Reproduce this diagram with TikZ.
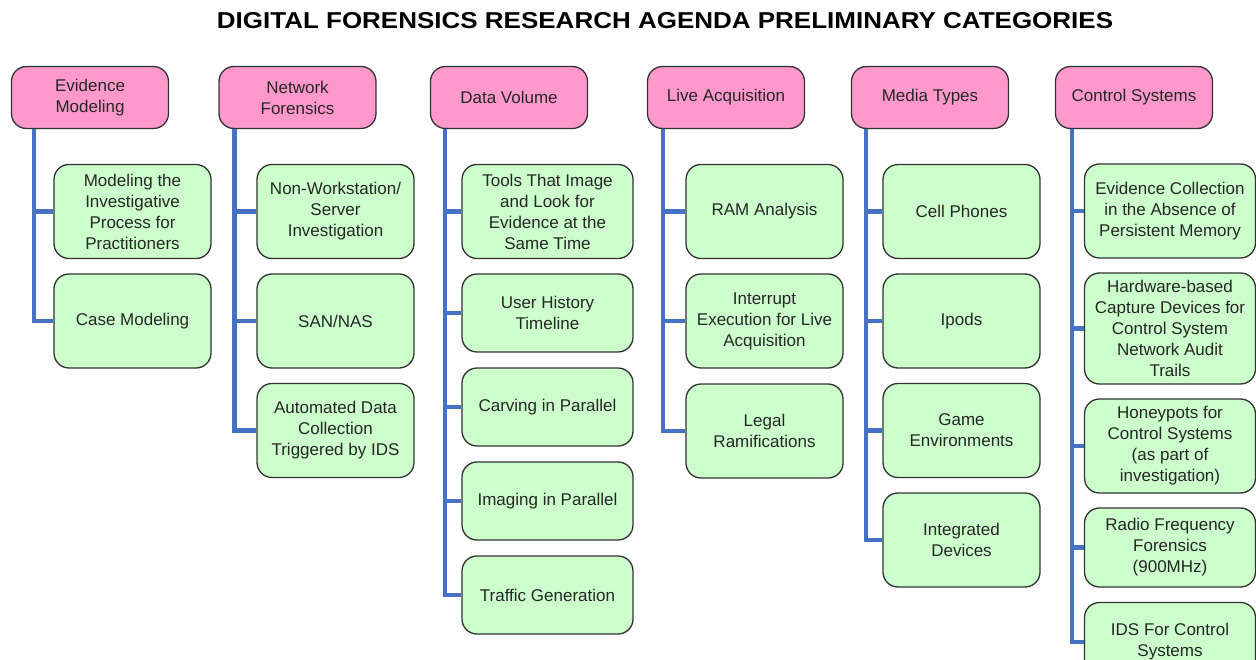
\documentclass[tikz,border=0pt]{standalone}
\usepackage{fontspec}
\setmainfont{Liberation Sans}
\definecolor{headpink}{RGB}{255,153,204}
\definecolor{leafgreen}{RGB}{204,255,204}
\definecolor{linkblue}{RGB}{70,114,196}
\definecolor{rim}{RGB}{50,50,50}

\begin{document}
\begin{tikzpicture}[x=1pt, y=-1pt, every text node part/.style={align=center}]

\tikzstyle{box}=[draw=rim, line width=1.3pt, rounded corners=15pt, text=black!85, inner sep=0pt, font=\fontsize{17}{21}\selectfont]
\tikzstyle{head}=[box, fill=headpink, minimum width=157pt, minimum height=62pt]
\tikzstyle{leaf}=[box, fill=leafgreen, minimum width=157pt, minimum height=94pt]
\tikzstyle{wide}=[leaf, minimum width=171pt]
\tikzstyle{edge}=[draw=linkblue, line width=4.5pt]

\useasboundingbox (0,0) rectangle (1256,660);

\node [xscale=1.13, transform shape] (title) at (665, 21) {\fontsize{23}{27}\selectfont\bfseries DIGITAL FORENSICS RESEARCH AGENDA PRELIMINARY CATEGORIES};

\node [head] (evid)    at (  90, 97.5) {Evidence\\Modeling};
\node [head] (netw)    at ( 297.5, 97.5) {Network\\Forensics};
\node [head] (volume)  at ( 509, 97.5) {Data Volume};
\node [head] (live)    at ( 726, 97.5) {Live Acquisition};
\node [head] (media)   at ( 930, 97.5) {Media Types};
\node [head] (ctrl)    at (1134, 97.5) {Control Systems};

\node [leaf] (evid1)   at (132.5, 211.5) {Modeling the\\Investigative\\Process for\\Practitioners};
\node [leaf] (evid2)   at (132.5, 321) {Case Modeling};

\node [leaf] (netw1)   at (335.5, 211.5) {Non-Workstation/\\Server\\Investigation};
\node [leaf] (netw2)   at (335.5, 321) {SAN/NAS};
\node [leaf] (netw3)   at (335.5, 430.5) {Automated Data\\Collection\\Triggered by IDS};

\node [wide] (volume1) at (547.5, 211.5) {Tools That Image\\and Look for\\Evidence at the\\Same Time};
\node [wide, minimum height=78pt] (volume2) at (547.5, 313) {User History\\Timeline};
\node [wide, minimum height=78pt] (volume3) at (547.5, 407) {Carving in Parallel};
\node [wide, minimum height=78pt] (volume4) at (547.5, 501) {Imaging in Parallel};
\node [wide, minimum height=78pt] (volume5) at (547.5, 595) {Traffic Generation};

\node [leaf] (live1)   at (764.5, 211.5) {RAM Analysis};
\node [leaf] (live2)   at (764.5, 321) {Interrupt\\Execution for Live\\Acquisition};
\node [leaf] (live3)   at (764.5, 431) {Legal\\Ramifications};

\node [leaf] (media1)  at (961.5, 211.5) {Cell Phones};
\node [leaf] (media2)  at (961.5, 321) {Ipods};
\node [leaf] (media3)  at (961.5, 430.5) {Game\\Environments};
\node [leaf] (media4)  at (961.5, 540) {Integrated\\Devices};

\node [wide] (ctrl1)   at (1170, 211) {Evidence Collection\\in the Absence of\\Persistent Memory};
\node [wide, minimum height=111pt] (ctrl2) at (1170, 328.5) {Hardware-based\\Capture Devices for\\Control System\\Network Audit\\Trails};
\node [wide] (ctrl3)   at (1170, 446) {Honeypots for\\Control Systems\\(as part of\\investigation)};
\node [wide, minimum height=79pt] (ctrl4) at (1170, 547.5) {Radio Frequency\\Forensics\\(900MHz)};
\node [wide, minimum height=79pt] (ctrl5) at (1170, 642) {IDS For Control\\Systems};

\path [edge] ([xshift=23pt]evid.south west) |- (evid1.west);
\path [edge] ([xshift=23pt]evid.south west) |- (evid2.west);

\path [edge] ([xshift=16pt]netw.south west) |- (netw1.west);
\path [edge] ([xshift=16pt]netw.south west) |- (netw2.west);
\path [edge] ([xshift=16pt]netw.south west) |- (netw3.west);

\path [edge] ([xshift=15pt]volume.south west) |- (volume1.west);
\path [edge] ([xshift=15pt]volume.south west) |- (volume2.west);
\path [edge] ([xshift=15pt]volume.south west) |- (volume3.west);
\path [edge] ([xshift=15pt]volume.south west) |- (volume4.west);
\path [edge] ([xshift=15pt]volume.south west) |- (volume5.west);

\path [edge] ([xshift=16pt]live.south west) |- (live1.west);
\path [edge] ([xshift=16pt]live.south west) |- (live2.west);
\path [edge] ([xshift=16pt]live.south west) |- (live3.west);

\path [edge] ([xshift=15pt]media.south west) |- (media1.west);
\path [edge] ([xshift=15pt]media.south west) |- (media2.west);
\path [edge] ([xshift=15pt]media.south west) |- (media3.west);
\path [edge] ([xshift=15pt]media.south west) |- (media4.west);

\path [edge] ([xshift=17pt]ctrl.south west) |- (ctrl1.west);
\path [edge] ([xshift=17pt]ctrl.south west) |- (ctrl2.west);
\path [edge] ([xshift=17pt]ctrl.south west) |- (ctrl3.west);
\path [edge] ([xshift=17pt]ctrl.south west) |- (ctrl4.west);
\path [edge] ([xshift=17pt]ctrl.south west) |- (ctrl5.west);

\end{tikzpicture}
\end{document}
